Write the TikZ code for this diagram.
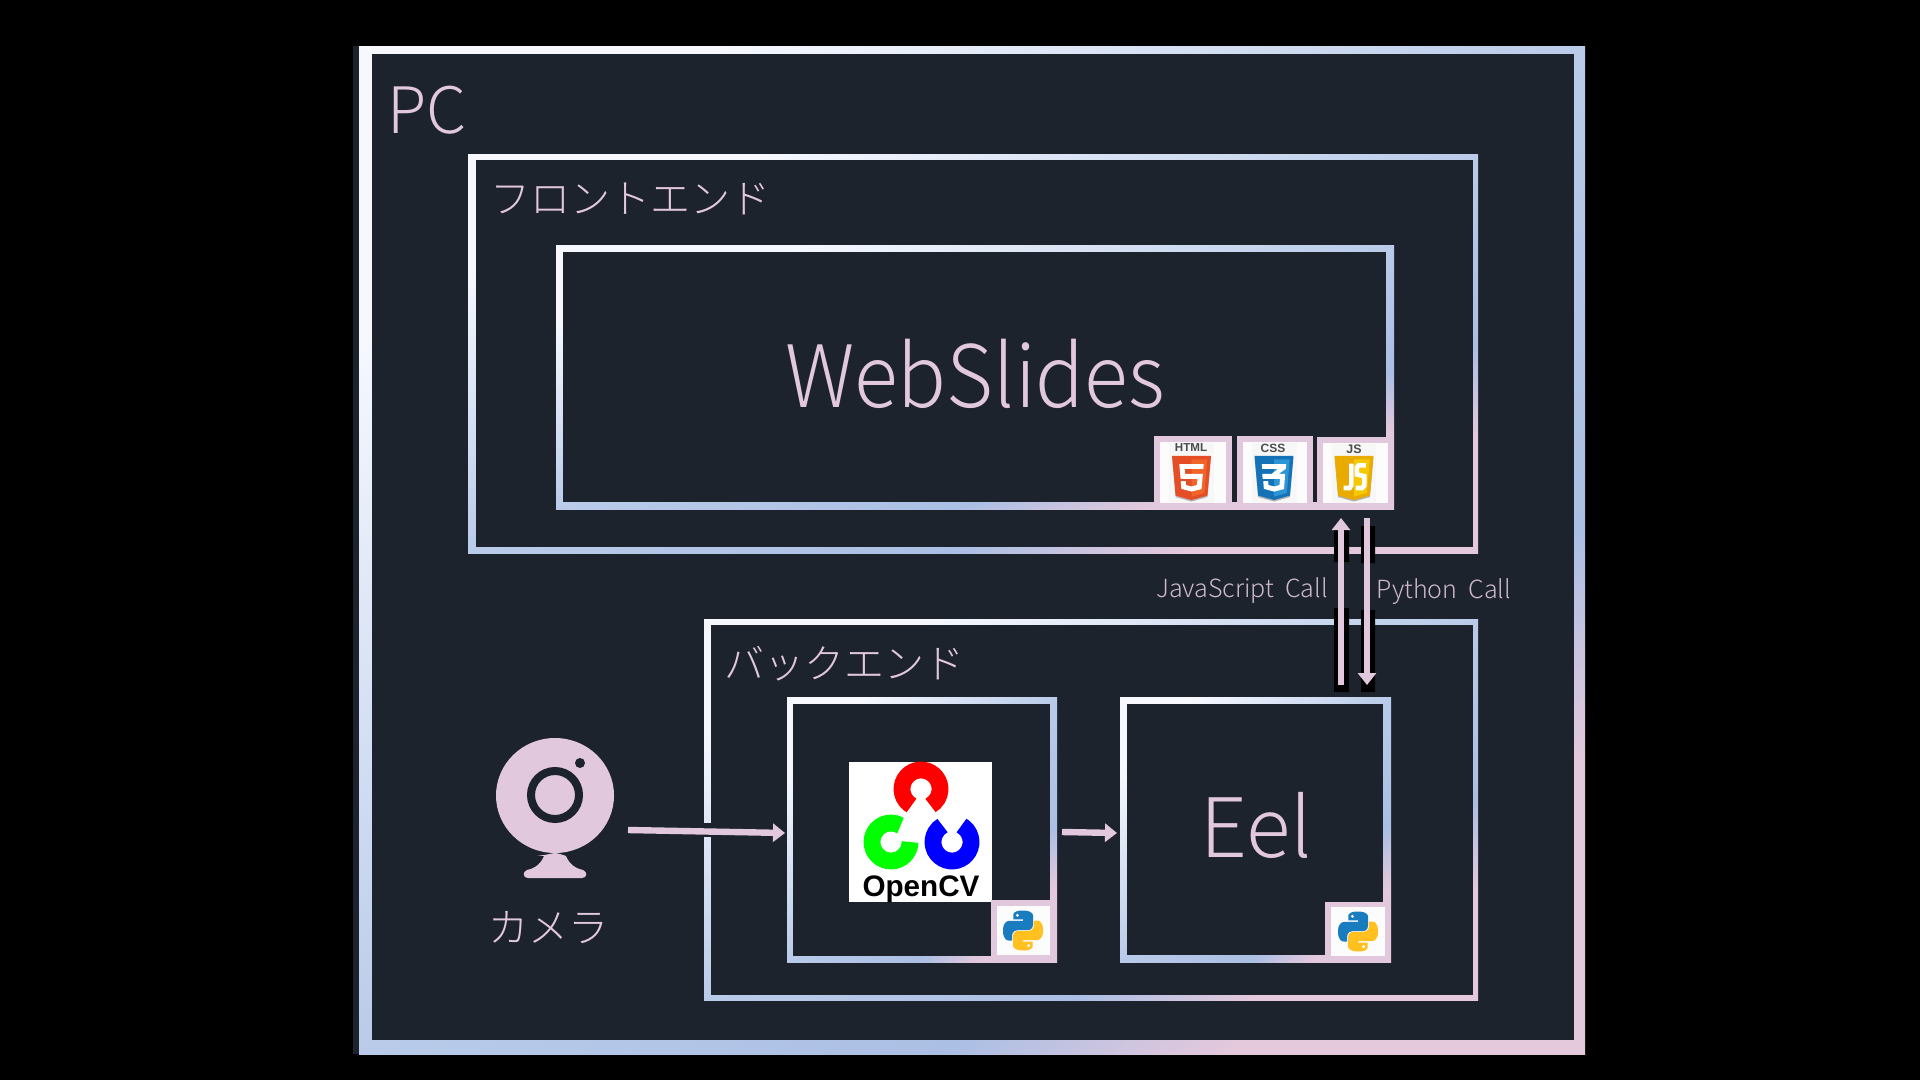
\documentclass[tikz,border=0pt]{standalone}
\usepackage{fontspec}
\usepackage{graphicx}
\usetikzlibrary{arrows.meta,shapes.geometric}
\setmainfont{Noto Sans CJK JP Light}
\newfontfamily\iconfont{Liberation Sans Bold}
\definecolor{panel}{HTML}{1D232D}
\definecolor{pinkc}{HTML}{E2C8DC}
\definecolor{dimc}{HTML}{CDB9C9}
\definecolor{gwhite}{HTML}{F6F8FE}
\definecolor{gmid}{HTML}{B9CBE9}
\definecolor{gblue}{HTML}{ABBFE4}
\definecolor{gpink}{HTML}{E4C8DC}
\definecolor{htmlA}{HTML}{E44D26}
\definecolor{htmlB}{HTML}{F16529}
\definecolor{cssA}{HTML}{1572B6}
\definecolor{cssB}{HTML}{2B95D6}
\definecolor{jsA}{HTML}{E9AB00}
\definecolor{jsB}{HTML}{F6C800}
\pgfdeclareverticalshading{framegrad}{100bp}{color(0bp)=(gpink); color(25bp)=(gpink); color(33bp)=(gblue); color(50bp)=(gmid); color(75bp)=(gwhite); color(100bp)=(gwhite)}
\tikzset{
  x=0.5pt,y=-0.5pt,
  gradshade/.style={shading=framegrad,shading angle=45},
  txt/.style={text=pinkc,inner sep=0pt,anchor=center},
  linkarrow/.style={draw=pinkc,line width=3.2pt,-{Triangle[length=6pt,width=9pt]}},
  badge/.style={fill=pinkc},
  blackstrip/.style={fill=black},
}
\newcommand{\gframe}[9]{%
  \begin{scope}
  \clip ({#2+0.2},{#3+0.7}) rectangle (#4,#5);
  \begin{scope}[transform canvas={shift={({(#2+#4)/2},{(#3+#5)/2})},xscale={(#4-#2)/200},yscale={(#5-#3)/200}}]
    \shade[gradshade] (-50pt,-50pt) rectangle (50pt,50pt);
  \end{scope}
  \end{scope}
  \fill[panel] (#6,#7) rectangle (#8,#9);
  \coordinate (#1-nw) at (#2,#3);
  \coordinate (#1-se) at (#4,#5);
}
\newcommand{\icon}[8]{%
  \fill[badge] (#1,#2) rectangle (#3,#4);
  \fill[white!99!black] (#5,#6) rectangle (#7,#8);
}
\newcommand{\pylogo}[3]{%
 \begin{scope}[shift={(#1,#2)},x=#3*0.5pt,y=-#3*0.5pt,shift={(-50,-50)}]
  \fill[color={rgb,255:red,24;green,124;blue,190}] (49,0) .. controls (24,0) and (26,11) .. (26,11) -- (26,22) -- (50,22) -- (50,26) -- (16,26) .. controls (16,26) and (0,24) .. (0,50) .. controls (0,76) and (14,75) .. (14,75) -- (23,75) -- (23,63) .. controls (23,63) and (22,49) .. (37,49) -- (62,49) .. controls (62,49) and (75,49) .. (75,36) -- (75,13) .. controls (75,13) and (77,0) .. (49,0) -- cycle;
  \fill[white] (36,12) circle[radius=4];
  \fill[color={rgb,255:red,255;green,192;blue,32}] (51,100) .. controls (76,100) and (74,89) .. (74,89) -- (74,78) -- (50,78) -- (50,74) -- (84,74) .. controls (84,74) and (100,76) .. (100,50) .. controls (100,24) and (86,25) .. (86,25) -- (77,25) -- (77,37) .. controls (77,37) and (78,51) .. (63,51) -- (38,51) .. controls (38,51) and (25,51) .. (25,64) -- (25,87) .. controls (25,87) and (23,100) .. (51,100) -- cycle;
  \fill[white] (64,88) circle[radius=4];
 \end{scope}
}
\newcommand{\shieldbase}[5]{%
  \fill[black!30] (#1+#3*71-#3*256,#2+#3*460-#3*256+1.5) -- (#1+#3*30-#3*256,#2-#3*256+1.5) -- (#1+#3*482-#3*256,#2-#3*256+1.5) -- (#1+#3*441-#3*256,#2+#3*460-#3*256+1.5) -- (#1,#2+#3*512-#3*256+1.5) -- cycle;
  \fill[#4] (#1+#3*71-#3*256,#2+#3*460-#3*256) -- (#1+#3*30-#3*256,#2-#3*256) -- (#1+#3*482-#3*256,#2-#3*256) -- (#1+#3*441-#3*256,#2+#3*460-#3*256) -- (#1,#2+#3*512-#3*256) -- cycle;
  \fill[#5] (#1,#2-#3*256+#3*38) -- (#1+#3*440-#3*256,#2-#3*256+#3*38) -- (#1+#3*405-#3*256,#2+#3*431-#3*256) -- (#1,#2+#3*472-#3*256) -- cycle;
}
\begin{document}
\begin{tikzpicture}
\useasboundingbox (0,0) rectangle (1920,1080);
\fill[black] (0,0) rectangle (1920,1080);
\fill[panel] (353,46) rectangle (1585,1054);
\gframe{pc}{359}{46}{1585}{1054}{372}{54}{1574}{1040}
\gframe{front}{468}{154}{1478}{553}{476}{160}{1473}{547}
\gframe{web}{556}{245}{1394}{509}{563}{252}{1386}{502}
\gframe{back}{704}{619}{1478}{1000}{711}{625}{1473}{995}
\gframe{cvbox}{787}{697}{1057}{962}{793}{704}{1050}{956}
\gframe{eelbox}{1120}{697}{1391}{962}{1127}{704}{1383}{955}

\node[txt] (pclabel) at (427,110) {\fontsize{32}{32}\selectfont PC};
\node[txt] (frontlabel) at (630,199) {\fontsize{20}{20}\selectfont フロントエンド};
\node[txt] (weblabel) at (975,374) {\scalebox{0.94}[1]{\fontsize{43}{44}\selectfont WebSlides}};
\node[txt] (backlabel) at (844,664) {\fontsize{20}{20}\selectfont バックエンド};
\node[txt] (eellabel) at (1256,825) {\fontsize{41}{41}\selectfont Eel};
\node[txt] (camlabel) at (548,928) {\fontsize{20}{20}\selectfont カメラ};
\node[txt,text=dimc] (jslabel) at (1242,591) {\fontsize{12.5}{13}\selectfont JavaScript\ \ Call};
\node[txt,text=dimc] (pylabel) at (1444,592) {\fontsize{12.5}{13}\selectfont Python\ \ Call};

% HTML badge
\icon{1154}{436}{1232}{509}{1160}{442}{1226}{503}
\fill[black!3] (1169,443) rectangle (1214,503);
\node[font=\iconfont,text=black!70,inner sep=0pt] (htmltext) at (1191,448) {\fontsize{5.8}{6}\selectfont HTML};
\shieldbase{1191.5}{478}{0.086}{htmlA}{htmlB}
\begin{scope}[shift={(1191.5,478)},x=0.086*0.5pt,y=-0.086*0.5pt,shift={(-256,-256)}]
 \fill[white] (114,94) -- (398,94) -- (393,150) -- (176,150) -- (181,208) -- (388,208) -- (372,385) -- (256,414) -- (138,382) -- (131,293) -- (188,293) -- (192,338) -- (256,355) -- (319,338) -- (326,265) -- (129,265) -- cycle;
\end{scope}
% CSS badge
\icon{1237}{436}{1313}{509}{1243}{442}{1307}{503}
\fill[black!3] (1252,443) rectangle (1297,503);
\node[font=\iconfont,text=black!70,inner sep=0pt] (csstext) at (1273,448) {\fontsize{6}{6}\selectfont CSS};
\shieldbase{1274}{478}{0.086}{cssA}{cssB}
\begin{scope}[shift={(1274,478)},x=0.086*0.5pt,y=-0.086*0.5pt,shift={(-256,-256)}]
 \fill[white] (114,94) -- (398,94) -- (393,150) -- (310,208) -- (386,208) -- (372,385) -- (256,414) -- (138,382) -- (131,293) -- (188,293) -- (192,338) -- (256,355) -- (319,338) -- (326,265) -- (124,265) -- (119,208) -- (230,208) -- (300,150) -- (119,150) -- cycle;
\end{scope}
% JS badge
\icon{1317}{437}{1394}{509}{1323}{443}{1388}{503}
\fill[black!3] (1332,444) rectangle (1376,503);
\node[font=\iconfont,text=black!70,inner sep=0pt] (jstext) at (1354,449) {\fontsize{6.2}{6}\selectfont JS};
\shieldbase{1354}{478}{0.086}{jsA}{jsB}
\begin{scope}[shift={(1354,478)},x=0.086*0.5pt,y=-0.086*0.5pt,shift={(-256,-256)}]
 \draw[white,line width=2.3pt] (225,90) -- (225,340) -- (205,372) -- (135,372);
 \draw[white,line width=2.3pt] (395,110) -- (310,110) -- (290,130) -- (290,215) -- (375,235) -- (375,345) -- (350,372) -- (275,372);
\end{scope}

% OpenCV logo
\node[fill=white,minimum width=71.5pt,minimum height=70pt,inner sep=0pt] (opencv) at (920.5,832) {};
\draw[line width=8.4pt,color=red] (921,789)+(120:19) arc[start angle=120,end angle=420,radius=19];
\draw[line width=8.4pt,color={rgb,255:red,0;green,255;blue,0}] (891,842)+(0:19) arc[start angle=0,end angle=300,radius=19];
\draw[line width=8.4pt,color=blue] (952,842)+(-60:19) arc[start angle=-60,end angle=240,radius=19];
\node[font=\iconfont,inner sep=0pt,text=black] (cvtext) at (921,889) {\resizebox{58.5pt}{!}{OpenCV}};
% python badges
\icon{991}{900}{1057}{962}{997}{906}{1050}{955}
\pylogo{1023}{930.5}{0.4}
\icon{1325}{902}{1391}{962}{1331}{907}{1385}{956}
\pylogo{1358}{931.5}{0.4}

% Camera
\node[ellipse,fill=pinkc,minimum width=59pt,minimum height=57.5pt,inner sep=0pt] (camera) at (555,795.5) {};
\fill[pinkc] (537,855) .. controls (545,856) and (552,853) .. (555,853) .. controls (558,853) and (566,856) .. (566,856) .. controls (570,866) and (578,869) .. (583,870) .. controls (588,872) and (587,878) .. (582,878) -- (528,878) .. controls (523,878) and (522,872) .. (527,870) .. controls (532,869) and (540,866) .. (544,856) -- cycle;
\draw[panel,line width=4pt] (555,795) circle[radius=24];
\fill[panel] (580,763) circle[radius=5];

% Connectors
\fill[panel] (703,823) rectangle (712,837);
\fill[blackstrip] (1334,527) rectangle (1349,562) (1334,608) rectangle (1349,692);
\fill[blackstrip] (1361,526) rectangle (1375,563) (1361,610) rectangle (1375,692);
\coordinate (camout) at (628,830);
\coordinate (cvin) at (785,833);
\coordinate (cvout) at (1062,832);
\coordinate (eelin) at (1117,833);
\coordinate (jsfrom) at (1341,685);
\coordinate (jsto) at (1341,518);
\coordinate (pyfrom) at (1367,518);
\coordinate (pyto) at (1367,685);
\draw[linkarrow] (camout) -- (cvin);
\draw[linkarrow] (cvout) -- (eelin);
\draw[linkarrow] (jsfrom) -- (jsto);
\draw[linkarrow] (pyfrom) -- (pyto);
\end{tikzpicture}
\end{document}
